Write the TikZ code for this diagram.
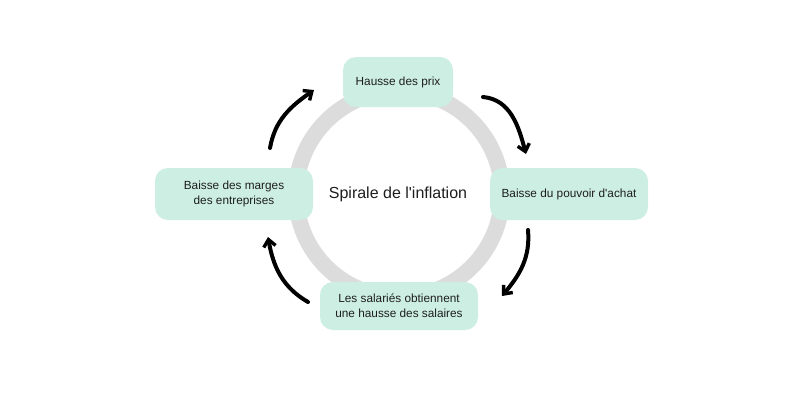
\documentclass[tikz,border=0pt]{standalone}
\usepackage{fontspec}
\setmainfont{Liberation Sans}
\usetikzlibrary{arrows.meta}
\definecolor{mint}{HTML}{CDEFE3}
\definecolor{ringgray}{HTML}{DCDCDC}
\definecolor{txt}{HTML}{1E1E1E}
\begin{document}
\begin{tikzpicture}[x=1pt,y=1pt,
  stage/.style={draw=none,fill=mint,rounded corners=13pt,align=center,text=txt,font=\fontsize{11.8}{15}\selectfont,inner sep=0pt},
  cyc/.style={line width=4pt,line cap=round,-{Straight Barb[length=7pt,width=12pt,line width=3.4pt]}}]
\useasboundingbox (0,0) rectangle (800,400);
\fill[white] (0,0) rectangle (800,400);
\draw[ringgray,line width=16pt] (399,206) circle[radius=103];
\node[text=txt,font=\fontsize{16}{19}\selectfont] (title) at (398,206) {Spirale de l\textquotesingle inflation};
\node[stage,minimum width=110pt,minimum height=50pt] (top) at (398,318) {Hausse des prix};
\node[stage,minimum width=158pt,minimum height=52pt] (right) at (569,206) {Baisse du pouvoir d\textquotesingle achat};
\node[stage,minimum width=158pt,minimum height=48pt] (bottom) at (399,94) {Les salariés obtiennent\\une hausse des salaires};
\node[stage,minimum width=158pt,minimum height=52pt] (left) at (234,206) {Baisse des marges\\des entreprises};
\coordinate (a1) at (270,252); \coordinate (a2) at (314,310);
\coordinate (b1) at (483,303); \coordinate (b2) at (526,246);
\coordinate (c1) at (528,170); \coordinate (c2) at (502,104);
\coordinate (d1) at (308,98);  \coordinate (d2) at (268,163);
\draw[cyc] (a1) to[out=80,in=215] (a2);
\draw[cyc] (b1) to[out=-5,in=105] (b2);
\draw[cyc] (c1) to[out=-85,in=50] (c2);
\draw[cyc] (d1) to[out=150,in=-80] (d2);
\end{tikzpicture}
\end{document}
